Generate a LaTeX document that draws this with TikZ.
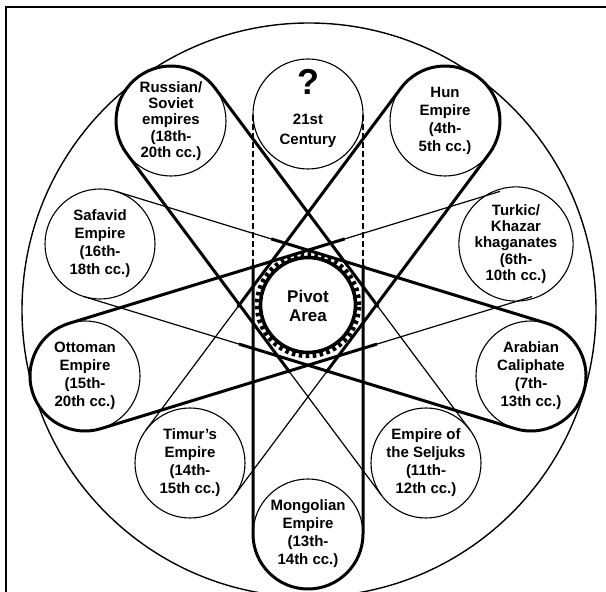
\documentclass[tikz,border=0pt]{standalone}
\usepackage{fontspec}
\setmainfont{Liberation Sans}
\usetikzlibrary{calc}
\newcommand\capsule[4]{%
  \draw[thickline] let \p1=($(#2.center)-(#1.center)$), \n1={atan2(\y1,\x1)}, \p2=(\n1+90:55pt) in
    ($(#1.center)+(\x2,\y2)$) arc[start angle=\n1+90, end angle=\n1+270, radius=55pt]
    -- ($(#1.center)!#3!(#2.center)-(\x2,\y2)$)
    ($(#1.center)+(\x2,\y2)$) -- ($(#1.center)!#3!(#2.center)+(\x2,\y2)$);
  \draw[#4] let \p1=($(#2.center)-(#1.center)$), \n1={atan2(\y1,\x1)}, \p2=(\n1+90:55pt) in
    ($(#1.center)!#3!(#2.center)+(\x2,\y2)$) -- ($(#2.center)+(\x2,\y2)$)
    ($(#1.center)!#3!(#2.center)-(\x2,\y2)$) -- ($(#2.center)-(\x2,\y2)$);
}
\begin{document}
\begin{tikzpicture}[x=1pt,y=1pt,
  thickline/.style={line width=3pt},
  thinline/.style={line width=1.2pt},
  dashline/.style={line width=1.1pt, dash pattern=on 6pt off 3pt},
  emp/.style={circle, draw, line width=1.1pt, fill=white, minimum size=110pt, inner sep=0pt, align=center},
  four/.style={font=\fontsize{15}{18}\selectfont\bfseries},
  five/.style={font=\fontsize{15}{16.3}\selectfont\bfseries},
]
\useasboundingbox (0,0) rectangle (606,592);
\draw[line width=2pt] (6,-5) -- (6,585) -- (612,585);
\draw[line width=1.4pt] (309,282) circle (287);

\node[emp] (c21) at (308,478) {};
\node[emp,five] (rus) at (171,471) {Russian/\\Soviet\\empires\\(18th-\\20th cc.)};
\node[emp,four] (hun) at (445,471) {Hun\\Empire\\(4th-\\5th cc.)};
\node[emp,four] (saf) at (100,348) {Safavid\\Empire\\(16th-\\18th cc.)};
\node[emp,five] (tur) at (516,348) {Turkic/\\Khazar\\khaganates\\(6th-\\10th cc.)};
\node[emp,four] (ott) at (85,216) {Ottoman\\Empire\\(15th-\\20th cc.)};
\node[emp,four] (ara) at (531,216) {Arabian\\Caliphate\\(7th-\\13th cc.)};
\node[emp,four] (tim) at (190,129) {Timur's\\Empire\\(14th-\\15th cc.)};
\node[emp,four] (sel) at (426,129) {Empire of\\the Seljuks\\(11th-\\12th cc.)};
\node[emp,four] (mon) at (308,58) {Mongolian\\Empire\\(13th-\\14th cc.)};

\node[font=\fontsize{36}{36}\selectfont\bfseries] (q) at (308,510) {?};
\node[font=\fontsize{15}{20}\selectfont\bfseries, align=center] (c21t) at (308,461) {21st\\Century};

\capsule{mon}{c21}{0.64}{dashline}
\capsule{hun}{tim}{0.64}{thinline}
\capsule{rus}{sel}{0.64}{thinline}
\capsule{ott}{tur}{0.64}{thinline}
\capsule{ara}{saf}{0.64}{thinline}

\node[circle, fill=white, minimum size=95pt, inner sep=0pt] (piv) at (308,287) {};
\draw[line width=3.6pt] (piv.center) circle (47.5);
\draw[line width=4.5pt, dash pattern=on 3.5pt off 3.5pt] (piv.center) circle (51);
\node[font=\fontsize{17}{19}\selectfont\bfseries, align=center] (pivt) at (308,286) {Pivot\\Area};
\end{tikzpicture}
\end{document}
